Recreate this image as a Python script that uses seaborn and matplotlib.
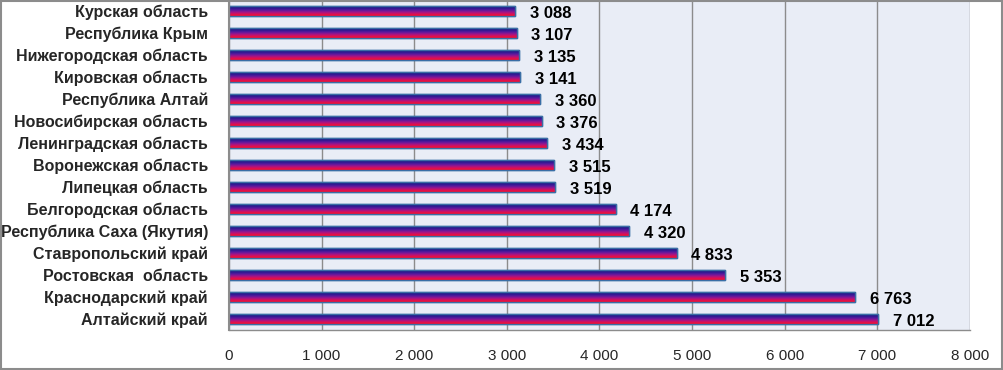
import numpy as np
import pandas as pd
import matplotlib.pyplot as plt
import seaborn as sns
from matplotlib.colors import LinearSegmentedColormap
from matplotlib.patches import Rectangle

# Data
regions = ["Курская область", "Республика Крым", "Нижегородская область",
           "Кировская область", "Республика Алтай", "Новосибирская область",
           "Ленинградская область", "Воронежская область", "Липецкая область",
           "Белгородская область", "Республика Саха (Якутия)", "Ставропольский край",
           "Ростовская  область", "Краснодарский край", "Алтайский край"]
values = [3088, 3107, 3135, 3141, 3360, 3376, 3434, 3515, 3519,
          4174, 4320, 4833, 5353, 6763, 7012]
xticks = [0, 1000, 2000, 3000, 4000, 5000, 6000, 7000, 8000]

df = pd.DataFrame({"region": regions, "value": values})

def fmt(v):
    return f"{v:,}".replace(",", " ")

sns.set_style("white")
plt.rcParams['font.family'] = ['Liberation Sans', 'DejaVu Sans']

fig = plt.figure(figsize=(10.04, 3.70), dpi=100)
ax = fig.add_axes([0.228, 0.108, 0.738, 0.892])

sns.barplot(data=df, x="value", y="region", orient="h", width=0.45,
            color="#6a1a9a", edgecolor="#3a6ea5", linewidth=1.0, ax=ax)

ax.set_facecolor("#e9edf6")

# gradient fill for each bar: navy on top, red at the bottom
cmap = LinearSegmentedColormap.from_list(
    "grad", ["#18187a", "#2a1a90", "#5a1a9e", "#9a168c", "#d8105a", "#ff0a24"])
grad = np.linspace(0, 1, 64).reshape(-1, 1)
for p in ax.patches:
    x0, y0 = p.get_x(), p.get_y()
    w, h = p.get_width(), p.get_height()
    im = ax.imshow(grad, cmap=cmap, aspect="auto", extent=(x0, x0 + w, y0 + h, y0),
                   origin="upper", zorder=p.get_zorder() + 0.1)
    im.set_clip_path(p)
    p.set_facecolor("none")
    ax.add_patch(Rectangle((x0, y0), w, h, fill=False, edgecolor="#3a6ea5",
                           linewidth=1.0, zorder=p.get_zorder() + 0.2))
ax.set_xlim(0, 8000)
ax.set_ylim(len(regions) - 0.5, -0.5)
ax.set_aspect("auto")

for i, v in enumerate(values):
    ax.text(v + 160, i + 0.12, fmt(v), va="center", ha="left",
            fontsize=12, fontweight="bold", color="black")

ax.set_xticks(xticks)
ax.set_xticklabels([fmt(t) for t in xticks], fontsize=11)
ax.set_yticks(range(len(regions)))
ax.set_yticklabels(regions, fontsize=11.5, fontweight="bold")
ax.set_yticks(np.arange(-0.5, len(regions), 1), minor=True)
ax.tick_params(axis="y", which="major", length=0, pad=15)
ax.tick_params(axis="y", which="minor", length=6, color="#8c8c8c", width=1.2)
ax.tick_params(axis="x", length=6, color="#8c8c8c", width=1, pad=8)
ax.set_xlabel("")
ax.set_ylabel("")

ax.xaxis.grid(True, color="#8c8c8c", linewidth=1)
ax.set_axisbelow(True)
for s in ["top", "right"]:
    ax.spines[s].set_visible(False)
ax.spines["left"].set_color("#8c8c8c")
ax.spines["left"].set_linewidth(1.5)
ax.spines["bottom"].set_color("#8c8c8c")
ax.spines["bottom"].set_linewidth(1)

# outer chart frame
fig.patches.append(Rectangle((0.001, 0.002), 0.997, 0.996, transform=fig.transFigure,
                             fill=False, edgecolor="#8c8c8c", linewidth=1.5))

plt.savefig("out.png", dpi=100)
